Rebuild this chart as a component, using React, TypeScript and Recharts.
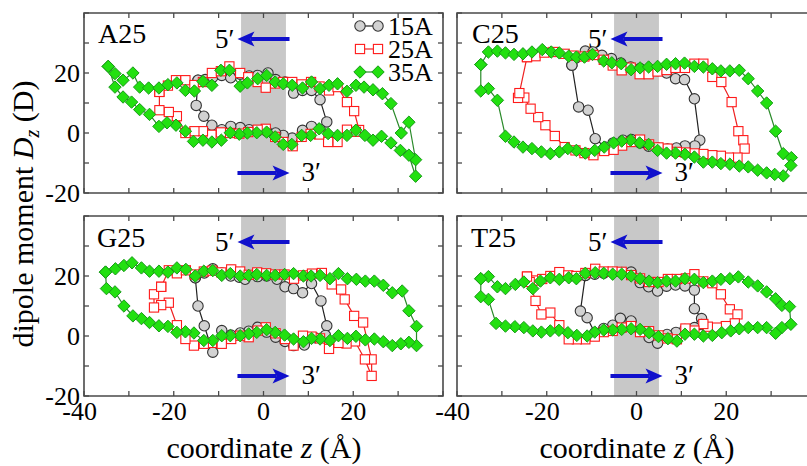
import React from 'react';
import { LineChart, Line, XAxis, YAxis, ReferenceArea, ReferenceLine, Legend } from 'recharts';

type Pt = [number, number];

// ---- axes / annotations ----
const Z_TICKS = [-40, -30, -20, -10, 0, 10, 20, 30, 40];
const Z_LABELS = [-40, -20, 0, 20];
const D_TICKS = [-20, -10, 0, 10, 20, 30, 40];
const D_LABELS = [-20, 0, 20];
const Z_DOMAIN: [number, number] = [-40, 40];
const D_DOMAIN: [number, number] = [-20, 40];
const BAND: [number, number] = [-5, 5];
const ARROW_5 = { from: 5.8, to: -5.8, d: 31.3, label: '5\u2032' };
const ARROW_3 = { from: -5.8, to: 5.8, d: -13.3, label: '3\u2032' };
const SERIES_NAMES = ['15A', '25A', '35A'];
const PANEL_NAMES = ['A25', 'C25', 'G25', 'T25'];

// ---- A25 ----
const A25_15A: Pt[] = [
  [-14.6, 17.6], [-13.0, 17.8], [-11.3, 18.6], [-9.3, 19.2], [-7.3, 18.4], [-5.2, 19.6], [-3.2, 19.0], [-1.3, 19.2],
  [1.0, 20.0], [2.7, 17.8], [4.8, 17.0], [6.7, 13.3], [8.7, 14.2], [10.7, 14.2], [12.6, 11.1], [14.1, 3.7],
  [12.6, 1.2], [10.7, 2.2], [8.7, 0.9], [6.4, -1.7], [4.4, -0.8], [2.7, 0.0], [0.7, 0.6], [-1.3, 0.7],
  [-3.2, 1.1], [-5.2, 1.8], [-7.3, 2.2], [-9.3, 1.1], [-11.5, 2.6], [-13.3, 5.6], [-15.0, 9.2], [-14.6, 17.6],
];
const A25_25A: Pt[] = [
  [-23.2, 13.7], [-21.3, 15.8], [-19.5, 17.6], [-17.4, 17.6], [-15.4, 16.0], [-13.5, 17.0], [-11.5, 20.0], [-9.5, 20.6],
  [-7.6, 22.2], [-5.2, 20.0], [-3.4, 18.6], [-1.3, 17.0], [0.5, 15.1], [2.6, 16.5], [4.4, 17.0], [6.4, 17.0],
  [8.5, 16.2], [10.6, 17.0], [12.5, 15.5], [14.6, 14.2], [16.5, 15.3], [18.6, 10.3], [20.2, 7.3], [21.3, 1.0],
  [20.6, 0.4], [18.6, 1.1], [16.5, -3.0], [14.4, -3.0], [12.4, -0.5], [10.5, -0.3], [8.5, -1.3], [6.5, -4.4],
  [4.4, -3.0], [2.6, -1.3], [0.5, 1.4], [-1.3, 1.1], [-3.4, 0.3], [-5.4, -0.2], [-7.5, 0.0], [-9.5, 0.2],
  [-11.6, -0.6], [-13.5, 0.6], [-15.4, 0.6], [-17.4, 0.0], [-19.3, 5.6], [-21.1, 7.0], [-23.2, 7.6], [-23.2, 13.7],
];
const A25_35A: Pt[] = [
  [-34.6, 22.2], [-33.1, 19.8], [-31.3, 17.6], [-29.1, 20.0], [-27.6, 15.3], [-25.6, 15.0], [-23.3, 15.0], [-21.3, 16.1],
  [-19.3, 16.7], [-17.4, 14.2], [-15.4, 14.0], [-13.5, 17.2], [-11.5, 15.9], [-9.5, 20.9], [-7.6, 20.9], [-5.2, 15.6],
  [-3.6, 16.7], [-1.3, 18.1], [0.7, 19.2], [2.6, 17.0], [4.4, 16.4], [6.4, 15.9], [8.7, 15.0], [10.7, 17.0],
  [12.6, 14.8], [14.6, 15.9], [16.5, 16.4], [18.6, 13.9], [20.6, 15.9], [22.4, 15.3], [24.4, 14.4], [26.5, 13.1],
  [28.4, 9.8], [30.7, 0.0], [32.4, 3.6], [33.9, -8.9], [33.9, -14.4], [32.4, -7.4], [30.5, -5.8], [28.4, -3.3],
  [26.3, -1.1], [24.4, -2.4], [22.6, -0.8], [20.6, 0.9], [18.6, -0.8], [16.5, -0.8], [14.4, -0.2], [12.4, 1.4],
  [10.5, -0.8], [8.5, -0.8], [6.3, -3.8], [4.4, -3.8], [2.6, -1.3], [0.7, 0.3], [-1.5, 0.1], [-3.6, 0.0],
  [-5.4, -0.4], [-7.4, 0.1], [-9.4, -2.4], [-11.5, -3.0], [-13.5, -2.4], [-15.6, -2.8], [-17.4, 0.6], [-19.5, 2.6],
  [-21.5, 3.4], [-23.3, 2.2], [-25.4, 6.2], [-27.6, 7.8], [-29.4, 10.3], [-31.3, 12.0], [-33.1, 15.3], [-34.6, 22.2],
];

// ---- C25 ----
const C25_15A: Pt[] = [
  [-14.4, 22.6], [-13.5, 25.0], [-11.4, 27.3], [-9.7, 27.0], [-7.7, 25.9], [-5.6, 24.8], [-3.5, 23.3], [-1.3, 22.0],
  [0.8, 21.5], [2.7, 21.0], [4.7, 20.8], [6.7, 20.0], [8.7, 18.1], [10.7, 17.8], [12.9, 11.4], [14.1, -2.4],
  [13.0, -4.3], [10.8, -4.3], [8.9, -5.0], [6.9, -5.3], [4.8, -5.0], [2.7, -4.4], [0.8, -3.3], [-1.1, -2.2],
  [-3.0, -2.4], [-5.2, -3.3], [-7.0, -4.7], [-9.2, -1.9], [-10.8, 7.6], [-12.9, 8.7], [-14.4, 22.6],
];
const C25_25A: Pt[] = [
  [-24.4, 25.3], [-22.5, 25.6], [-20.5, 26.8], [-18.5, 27.0], [-16.0, 26.4], [-14.0, 25.8], [-11.6, 25.5], [-9.6, 26.0],
  [-7.3, 24.4], [-5.3, 22.5], [-3.3, 20.9], [-1.3, 21.8], [0.7, 19.6], [2.7, 19.6], [4.7, 20.5], [6.7, 21.0],
  [8.7, 21.7], [10.8, 21.7], [12.9, 23.1], [14.9, 23.1], [16.9, 18.7], [18.9, 17.0], [21.2, 10.3], [22.7, 0.6],
  [23.8, -2.4], [24.1, -5.2], [22.5, -8.2], [20.6, -8.2], [18.8, -7.6], [16.9, -7.4], [14.9, -7.0], [12.9, -6.8],
  [10.9, -6.5], [9.0, -6.3], [6.9, -5.2], [4.9, -4.8], [2.8, -3.8], [0.8, -2.2], [-1.3, -3.0], [-3.2, -4.2],
  [-5.1, -5.6], [-7.2, -6.0], [-9.6, -7.4], [-11.6, -6.7], [-13.6, -5.8], [-16.0, -4.7], [-18.2, -1.0], [-20.3, 2.6],
  [-21.9, 5.3], [-23.6, 8.1], [-25.0, 11.8], [-26.4, 11.7], [-26.1, 13.3], [-24.4, 25.3],
];
const C25_35A: Pt[] = [
  [-34.7, 22.8], [-33.0, 27.0], [-31.0, 27.3], [-29.2, 26.7], [-27.3, 26.2], [-25.3, 26.4], [-23.3, 27.0], [-21.0, 27.8],
  [-19.0, 27.0], [-17.2, 26.7], [-15.1, 25.6], [-13.4, 25.3], [-11.6, 25.3], [-9.8, 26.2], [-7.3, 24.0], [-5.5, 23.4],
  [-3.4, 23.1], [-1.2, 21.1], [0.8, 21.7], [2.7, 22.0], [4.7, 22.2], [6.7, 22.9], [8.7, 23.1], [10.7, 23.3],
  [12.9, 22.2], [14.9, 22.0], [16.9, 21.4], [18.8, 20.7], [20.8, 20.7], [22.9, 20.9], [24.9, 18.1], [27.0, 14.0],
  [29.0, 10.0], [31.0, 0.6], [32.7, -6.9], [34.5, -8.2], [34.4, -10.8], [32.7, -14.3], [30.8, -13.8], [29.0, -13.3],
  [27.0, -12.4], [24.9, -11.3], [22.9, -11.0], [20.8, -10.4], [18.8, -10.2], [16.9, -9.7], [14.9, -9.7], [12.9, -8.0],
  [10.8, -7.1], [8.7, -6.7], [6.7, -6.7], [4.7, -5.8], [2.7, -3.8], [0.7, -3.3], [-1.3, -2.4], [-3.3, -2.7],
  [-5.1, -3.3], [-7.2, -4.7], [-9.3, -5.8], [-11.4, -6.7], [-13.4, -5.8], [-15.3, -5.2], [-17.2, -6.3], [-19.2, -6.9],
  [-21.2, -6.3], [-23.3, -5.2], [-25.3, -4.7], [-27.3, -3.0], [-29.2, -1.1], [-31.0, 10.9], [-33.0, 14.8], [-34.7, 14.0],
  [-34.7, 22.8],
];

// ---- G25 ----
const G25_15A: Pt[] = [
  [-15.2, 19.4], [-13.2, 21.0], [-11.3, 22.4], [-9.3, 21.0], [-7.3, 20.0], [-5.4, 19.6], [-4.1, 18.9], [-1.3, 19.8],
  [0.7, 20.0], [3.0, 18.9], [4.8, 16.4], [6.7, 15.8], [8.7, 14.4], [10.7, 17.5], [12.8, 11.7], [14.1, 3.4],
  [13.8, 0.2], [11.5, -0.6], [9.1, -3.0], [6.7, -3.2], [4.8, -1.8], [2.7, -0.4], [0.7, 1.3], [-1.3, 2.9],
  [-3.3, 1.6], [-5.2, 1.0], [-7.3, 0.3], [-9.3, 1.8], [-11.3, -5.4], [-13.2, 3.4], [-14.6, 10.0], [-15.2, 19.4],
];
const G25_25A: Pt[] = [
  [-22.8, 16.4], [-21.1, 21.9], [-19.3, 20.9], [-17.3, 21.9], [-15.3, 20.5], [-13.3, 21.5], [-11.4, 21.8], [-9.4, 21.2],
  [-7.2, 22.2], [-5.2, 21.5], [-3.3, 20.4], [-1.4, 21.2], [0.6, 20.9], [2.6, 20.5], [4.7, 20.5], [6.8, 19.1],
  [8.8, 20.2], [10.8, 20.8], [13.0, 21.0], [15.2, 17.2], [17.3, 15.5], [18.1, 12.2], [20.2, 6.7], [22.2, 4.5],
  [24.1, -7.8], [24.1, -13.3], [22.6, -7.8], [20.4, -1.8], [18.5, -2.5], [16.7, -2.3], [14.6, -4.3], [12.6, -0.8],
  [10.7, -0.2], [8.8, 0.1], [6.7, -3.2], [4.8, -1.0], [2.7, 0.9], [0.5, 2.9], [-1.3, 1.8], [-3.3, -0.4],
  [-5.2, 0.1], [-7.2, -1.0], [-9.3, -2.6], [-11.5, -2.3], [-13.3, -2.6], [-15.5, -3.2], [-17.4, -1.0], [-19.3, 3.6],
  [-21.1, 11.1], [-22.8, 10.3], [-24.4, 9.5], [-24.4, 13.9], [-22.8, 16.4],
];
const G25_35A: Pt[] = [
  [-35.2, 21.3], [-33.0, 22.4], [-31.1, 23.5], [-29.3, 24.4], [-27.2, 22.7], [-25.4, 21.6], [-23.3, 21.6], [-21.3, 21.3],
  [-19.3, 22.7], [-17.3, 22.2], [-15.2, 20.0], [-13.3, 21.6], [-11.3, 21.8], [-9.3, 20.2], [-7.4, 20.8], [-5.2, 20.0],
  [-3.3, 20.2], [-1.5, 20.5], [0.7, 20.2], [2.6, 20.2], [4.7, 20.5], [6.7, 20.8], [8.9, 20.0], [10.6, 20.0],
  [12.6, 20.2], [14.8, 19.1], [16.7, 20.8], [18.7, 19.1], [20.7, 18.9], [22.7, 18.3], [24.7, 18.3], [26.7, 16.9],
  [28.7, 14.4], [30.9, 15.0], [32.4, 8.4], [34.1, 3.2], [34.1, -3.2], [32.4, -2.1], [30.6, -2.6], [28.7, -3.2],
  [26.7, -1.9], [24.7, -1.0], [22.7, -1.3], [20.6, -0.1], [18.7, -0.8], [16.7, 0.1], [14.8, -1.5], [12.6, -1.0],
  [10.7, -0.8], [8.9, -1.9], [6.7, -1.0], [4.7, 0.3], [2.6, 1.2], [0.7, 2.1], [-1.5, 1.2], [-3.3, 0.7],
  [-5.2, 0.1], [-7.4, 0.1], [-9.3, 0.1], [-11.3, -1.5], [-13.3, -1.5], [-15.5, 1.0], [-17.4, 1.4], [-19.3, 1.2],
  [-21.3, 3.2], [-23.3, 3.4], [-25.4, 4.5], [-27.2, 5.8], [-29.1, 6.7], [-31.1, 10.0], [-33.1, 14.7], [-35.0, 15.8],
  [-35.2, 21.3],
];

// ---- T25 ----
const T25_15A: Pt[] = [
  [-11.4, 20.2], [-9.3, 20.6], [-7.3, 20.9], [-5.3, 21.2], [-3.3, 21.2], [-1.2, 21.3], [0.8, 17.8], [2.7, 16.4],
  [4.7, 15.0], [6.7, 16.6], [8.7, 17.0], [10.8, 16.7], [12.9, 15.3], [12.9, 9.1], [14.5, 5.8], [14.5, 3.8],
  [12.9, 2.8], [10.8, 2.2], [8.8, 1.2], [6.8, 0.5], [4.7, -2.4], [2.8, -0.5], [0.8, 1.6], [-1.2, 5.0],
  [-3.6, 5.9], [-5.3, 3.6], [-7.3, 2.5], [-9.3, 1.1], [-11.0, 6.1], [-12.5, 8.3], [-11.4, 20.2],
];
const T25_25A: Pt[] = [
  [-24.4, 19.8], [-22.5, 18.5], [-21.0, 19.0], [-19.2, 20.0], [-17.2, 21.3], [-15.2, 20.2], [-13.4, 20.0], [-11.4, 21.0],
  [-9.2, 22.4], [-7.3, 21.5], [-5.3, 21.5], [-3.3, 21.4], [-1.2, 20.3], [0.8, 19.2], [2.8, 18.0], [4.9, 18.0],
  [7.0, 19.0], [9.0, 19.0], [11.0, 19.2], [12.9, 20.6], [14.9, 18.2], [16.9, 17.6], [18.8, 13.9], [20.8, 8.9],
  [22.5, 7.2], [21.9, 4.2], [19.9, 3.3], [17.9, 2.8], [15.9, 3.1], [14.9, 4.0], [12.9, 1.8], [10.9, 2.5],
  [9.0, -1.1], [6.9, -0.8], [4.9, 0.2], [2.8, 1.6], [0.8, 1.3], [-1.2, 3.3], [-3.3, 2.8], [-5.3, 1.7],
  [-7.3, 1.3], [-9.3, -0.2], [-11.4, -1.1], [-13.3, -1.1], [-15.1, -1.1], [-17.2, 3.6], [-19.2, 7.8], [-21.2, 7.2],
  [-22.5, 11.7], [-23.8, 18.0], [-24.4, 19.8],
];
const T25_35A: Pt[] = [
  [-34.7, 19.1], [-33.0, 19.8], [-31.0, 16.4], [-29.2, 15.8], [-27.0, 17.2], [-25.1, 18.0], [-23.1, 15.8], [-21.4, 18.3],
  [-19.2, 19.4], [-17.2, 18.9], [-15.1, 19.4], [-13.4, 19.1], [-11.4, 20.9], [-9.2, 21.1], [-7.3, 20.9], [-5.3, 20.6],
  [-3.3, 20.6], [-1.2, 20.0], [0.8, 19.1], [2.8, 18.3], [4.7, 17.8], [6.7, 18.3], [8.7, 18.3], [10.8, 19.1],
  [12.9, 18.9], [14.9, 17.8], [16.9, 18.3], [18.8, 18.9], [20.8, 19.1], [22.7, 19.7], [24.9, 18.0], [27.0, 16.7],
  [29.0, 14.7], [31.0, 12.4], [32.4, 10.2], [34.1, 9.8], [34.4, 3.9], [32.4, 2.8], [31.0, 0.9], [29.0, 2.8],
  [27.0, 2.8], [24.9, 2.8], [22.9, 2.4], [21.0, 1.7], [19.0, 1.1], [16.9, 0.2], [14.9, 0.0], [12.9, 0.6],
  [10.8, 0.6], [9.0, -1.7], [7.0, -0.9], [4.9, -0.2], [2.8, 1.1], [0.8, 2.2], [-1.2, 2.4], [-3.3, 2.2],
  [-5.3, 2.0], [-7.3, 2.0], [-9.3, 1.3], [-11.0, 0.0], [-13.3, 0.2], [-15.3, 1.1], [-17.3, 1.9], [-19.2, 1.7],
  [-21.2, 1.3], [-23.1, 1.7], [-25.1, 2.8], [-27.1, 3.1], [-29.2, 3.3], [-31.3, 4.2], [-33.0, 12.2], [-34.7, 13.1],
  [-34.7, 19.1],
];

// ---- styling ----
const FONT = '"Liberation Serif", "Times New Roman", Times, serif';
const AXIS = '#4a4a4a';
const BLUE = '#1010cc';
const PW = 359;
const PH = 180;
const TICK = 5;

const circleDot = (cx: number, cy: number, key?: any) => (
  <circle key={key} cx={cx} cy={cy} r={5.2} fill="#d2d2d2" stroke="#333" strokeWidth={1.1} />
);
const squareDot = (cx: number, cy: number, key?: any) => (
  <rect key={key} x={cx - 4.6} y={cy - 4.6} width={9.2} height={9.2} fill="#fff" stroke="#ff1a1a" strokeWidth={1.1} />
);
const diamondDot = (cx: number, cy: number, key?: any) => (
  <polygon
    key={key}
    points={`${cx},${cy - 6.2} ${cx + 6.2},${cy} ${cx},${cy + 6.2} ${cx - 6.2},${cy}`}
    fill="#22e010"
    stroke="#189a18"
    strokeWidth={1}
  />
);

const SERIES_STYLE: Record<string, { line: string; dot: (cx: number, cy: number, key?: any) => any }> = {
  '15A': { line: '#222', dot: circleDot },
  '25A': { line: '#ee2020', dot: squareDot },
  '35A': { line: '#2a8a2a', dot: diamondDot },
};

const dotRenderer = (name: string) => (p: any) => {
  if (p.cx == null || p.cy == null) return <g key={p.key} />;
  return SERIES_STYLE[name].dot(p.cx, p.cy, p.key);
};

const xTick = (showLabel: boolean) => (p: any) => {
  const { x, y, payload } = p;
  const v = payload.value;
  return (
    <g>
      <line x1={x} y1={y} x2={x} y2={y - TICK} stroke={AXIS} strokeWidth={1.3} />
      <line x1={x} y1={y - PH} x2={x} y2={y - PH + TICK} stroke={AXIS} strokeWidth={1.3} />
      {showLabel && Z_LABELS.includes(v) ? (
        <text x={v < 0 ? x - 4.3 : x} y={y + 24} textAnchor="middle" fontSize={26} fontFamily={FONT} fill="#000">
          {v}
        </text>
      ) : null}
    </g>
  );
};

const yTick = (showLabel: boolean) => (p: any) => {
  const { x, y, payload } = p;
  const v = payload.value;
  return (
    <g>
      <line x1={x} y1={y} x2={x + TICK} y2={y} stroke={AXIS} strokeWidth={1.3} />
      <line x1={x + PW} y1={y} x2={x + PW - TICK} y2={y} stroke={AXIS} strokeWidth={1.3} />
      {showLabel && D_LABELS.includes(v) ? (
        <text x={x - 4} y={y + 8.5} textAnchor="end" fontSize={26} fontFamily={FONT} fill="#000">
          {v}
        </text>
      ) : null}
    </g>
  );
};

const arrowShape = (label: string) => (p: any) => {
  const { x1, y1, x2, y2 } = p;
  if ([x1, y1, x2, y2].some((v) => v == null || isNaN(v))) return <g />;
  const dir = x2 > x1 ? 1 : -1;
  const head = 17;
  const hw = 7.5;
  const bx = x2 - dir * head;
  return (
    <g>
      <line x1={x1} y1={y1} x2={bx + dir * 4} y2={y2} stroke={BLUE} strokeWidth={4} />
      <polygon
        points={`${x2},${y2} ${bx},${y2 - hw} ${bx + dir * 4},${y2} ${bx},${y2 + hw}`}
        fill={BLUE}
      />
      <text
        x={dir < 0 ? x2 - 3 : x2 + 12}
        y={y2 + 8.5}
        textAnchor={dir < 0 ? 'end' : 'start'}
        fontSize={27}
        fontFamily={FONT}
        fill="#000"
      >
        {label}
      </text>
    </g>
  );
};

const LegendContent = (props: any) => {
  const payload = [...(props.payload || [])].sort(
    (a: any, b: any) => SERIES_NAMES.indexOf(a.value) - SERIES_NAMES.indexOf(b.value)
  );
  return (
    <svg width={92} height={72} style={{ display: 'block', overflow: 'visible' }}>
      {payload.map((e: any, i: number) => {
        const st = SERIES_STYLE[e.value];
        if (!st) return null;
        const cy = 12 + 23 * i;
        return (
          <g key={e.value}>
            <line x1={8} x2={26} y1={cy} y2={cy} stroke={st.line} strokeWidth={1.2} />
            {st.dot(8, cy)}
            {st.dot(26, cy)}
            <text x={36} y={cy + 9} fontSize={26} fontFamily={FONT} fill="#000">
              {e.value}
            </text>
          </g>
        );
      })}
    </svg>
  );
};

type PanelProps = {
  series: Pt[][];
  left: number;
  top: number;
  marginTop: number;
  yAxisWidth: number;
  xAxisHeight: number;
  showX: boolean;
  showY: boolean;
  legend?: boolean;
};

const toData = (arr: Pt[]) => arr.map(([z, d]) => ({ z, d }));

function Panel(p: PanelProps) {
  const width = p.yAxisWidth + PW + 4;
  const height = p.marginTop + PH + p.xAxisHeight;
  return (
    <div style={{ position: 'absolute', left: p.left, top: p.top }}>
      <LineChart width={width} height={height} margin={{ top: p.marginTop, right: 4, bottom: 0, left: 0 }}>
        <XAxis
          xAxisId="b"
          dataKey="z"
          type="number"
          domain={Z_DOMAIN}
          ticks={Z_TICKS}
          interval={0}
          allowDataOverflow
          height={p.xAxisHeight}
          axisLine={false}
          tickLine={false}
          tickSize={0}
          tickMargin={0}
          tick={xTick(p.showX)}
        />
        <YAxis
          yAxisId="l"
          dataKey="d"
          type="number"
          domain={D_DOMAIN}
          ticks={D_TICKS}
          interval={0}
          allowDataOverflow
          width={p.yAxisWidth}
          axisLine={false}
          tickLine={false}
          tickSize={0}
          tickMargin={0}
          tick={yTick(p.showY)}
        />
        <ReferenceArea xAxisId="b" yAxisId="l" x1={BAND[0]} x2={BAND[1]} fill="#c8c8c8" fillOpacity={1} stroke="none" />
        {SERIES_NAMES.map((name, i) => (
          <Line
            key={name}
            name={name}
            xAxisId="b"
            yAxisId="l"
            data={toData(p.series[i])}
            dataKey="d"
            type="linear"
            stroke={SERIES_STYLE[name].line}
            strokeWidth={1.2}
            dot={dotRenderer(name)}
            activeDot={false}
            isAnimationActive={false}
          />
        ))}
        <ReferenceLine
          xAxisId="b"
          yAxisId="l"
          segment={[{ x: ARROW_5.from, y: ARROW_5.d }, { x: ARROW_5.to, y: ARROW_5.d }]}
          shape={arrowShape(ARROW_5.label)}
        />
        <ReferenceLine
          xAxisId="b"
          yAxisId="l"
          segment={[{ x: ARROW_3.from, y: ARROW_3.d }, { x: ARROW_3.to, y: ARROW_3.d }]}
          shape={arrowShape(ARROW_3.label)}
        />
        <ReferenceArea
          xAxisId="b"
          yAxisId="l"
          x1={Z_DOMAIN[0]}
          x2={Z_DOMAIN[1]}
          y1={D_DOMAIN[0]}
          y2={D_DOMAIN[1]}
          fill="none"
          fillOpacity={0}
          stroke={AXIS}
          strokeWidth={1.6}
        />
        {p.legend ? (
          <Legend
            layout="vertical"
            align="center"
            verticalAlign="middle"
            content={LegendContent}
            wrapperStyle={{ left: 352, top: 14, width: 92, height: 72 }}
          />
        ) : null}
      </LineChart>
    </div>
  );
}

export default function App() {
  const panels = [
    { name: PANEL_NAMES[0], series: [A25_15A, A25_25A, A25_35A] },
    { name: PANEL_NAMES[1], series: [C25_15A, C25_25A, C25_35A] },
    { name: PANEL_NAMES[2], series: [G25_15A, G25_25A, G25_35A] },
    { name: PANEL_NAMES[3], series: [T25_15A, T25_25A, T25_35A] },
  ];
  return (
    <div
      style={{
        position: 'absolute',
        left: 0,
        top: 0,
        width: 807,
        height: 466,
        overflow: 'hidden',
        background: '#fff',
        fontFamily: FONT,
      }}
    >
      <Panel series={panels[0].series} left={0} top={0} marginTop={13} yAxisWidth={84} xAxisHeight={14} showX={false} showY legend />
      <Panel series={panels[1].series} left={427} top={0} marginTop={13} yAxisWidth={30} xAxisHeight={14} showX={false} showY={false} />
      <Panel series={panels[2].series} left={0} top={200} marginTop={16} yAxisWidth={84} xAxisHeight={32} showX showY />
      <Panel series={panels[3].series} left={427} top={200} marginTop={16} yAxisWidth={30} xAxisHeight={32} showX showY={false} />
      <svg width={807} height={466} style={{ position: 'absolute', left: 0, top: 0, pointerEvents: 'none' }}>
        <g fontFamily={FONT} fill="#000">
          <text x={98} y={43} fontSize={28}>{panels[0].name}</text>
          <text x={472} y={43} fontSize={28}>{panels[1].name}</text>
          <text x={97} y={247} fontSize={28}>{panels[2].name}</text>
          <text x={471} y={247} fontSize={28}>{panels[3].name}</text>
          <text x={264} y={458} fontSize={30} textAnchor="middle">
            coordinate <tspan fontStyle="italic">z</tspan> (Å)
          </text>
          <text x={637} y={458} fontSize={30} textAnchor="middle">
            coordinate <tspan fontStyle="italic">z</tspan> (Å)
          </text>
          <text transform="translate(33,214) rotate(-90)" fontSize={30} textAnchor="middle">
            dipole moment <tspan fontStyle="italic">D</tspan>
            <tspan fontStyle="italic" fontSize={20} dy={6}>z</tspan>
            <tspan dy={-6}> (D)</tspan>
          </text>
        </g>
      </svg>
    </div>
  );
}
